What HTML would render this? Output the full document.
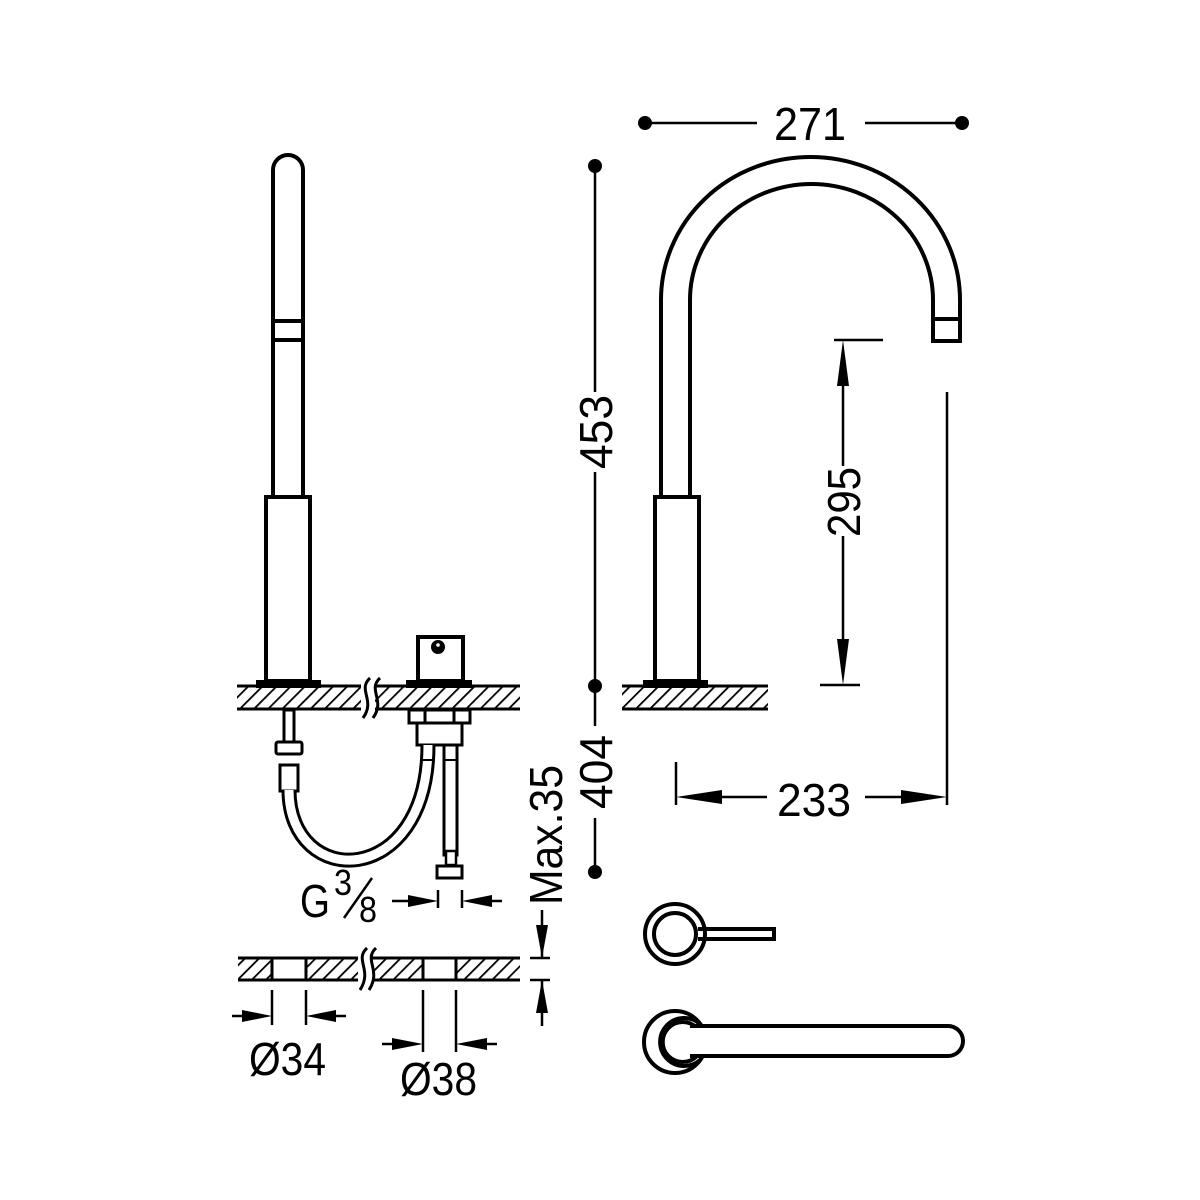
<!DOCTYPE html>
<html><head><meta charset="utf-8"><style>
html,body{margin:0;padding:0;background:#fff}
svg{display:block}
text{font-family:"Liberation Sans Narrow","Liberation Sans",sans-serif;fill:#000}
</style></head><body>
<svg width="1200" height="1200" viewBox="0 0 1200 1200" xmlns="http://www.w3.org/2000/svg">
<defs>
<pattern id="h" patternUnits="userSpaceOnUse" width="10" height="10" patternTransform="rotate(45)">
<line x1="0" y1="0" x2="0" y2="10" stroke="#000" stroke-width="3.6"/>
</pattern>
</defs>
<g fill="none" stroke="#000" stroke-width="4">
<path d="M273,497 V170 A15,15 0 0 1 303,170 V497"/>
<line x1="273" y1="321" x2="303" y2="321"/>
<line x1="273" y1="340" x2="303" y2="340"/>
<rect x="266" y="497" width="44" height="184"/>
<rect x="418" y="637" width="45" height="44"/>
</g>
<circle cx="438" cy="647" r="7" fill="#000"/>
<circle cx="438" cy="645" r="1.8" fill="#fff"/>
<rect x="256" y="680" width="65" height="8" fill="#000"/>
<rect x="406" y="680" width="66" height="8" fill="#000"/>
<rect x="237" y="686" width="283" height="23" fill="url(#h)"/>
<line x1="237" y1="686" x2="520" y2="686" stroke="#000" stroke-width="3"/>
<line x1="237" y1="709" x2="520" y2="709" stroke="#000" stroke-width="3"/>
<rect x="361" y="680" width="14" height="40" fill="#fff"/>
<path d="M370,678 C357,690 376,700 363,718 M380,678 C367,690 386,700 373,718" fill="none" stroke="#000" stroke-width="3"/>
<g fill="#fff" stroke="#000" stroke-width="3">
<rect x="409" y="710" width="61" height="13"/>
<line x1="425" y1="710" x2="425" y2="723"/><line x1="454" y1="710" x2="454" y2="723"/>
<rect x="417" y="723" width="45" height="22"/>
<rect x="284" y="710" width="10" height="32"/>
<rect x="276" y="742" width="26" height="12" rx="2"/>
<rect x="280" y="765" width="18" height="26"/>
</g>
<path d="M289,790 C289,890 428,890 428,745" fill="none" stroke="#000" stroke-width="15"/>
<path d="M289,790 C289,890 428,890 428,745" fill="none" stroke="#fff" stroke-width="9"/>
<line x1="422" y1="760" x2="434" y2="760" stroke="#000" stroke-width="2"/>
<rect x="444" y="745" width="13" height="110" fill="#fff" stroke="#000" stroke-width="3"/>
<line x1="444" y1="760" x2="457" y2="760" stroke="#000" stroke-width="2"/>
<rect x="446" y="851" width="10" height="14" fill="#fff" stroke="#000" stroke-width="2.5"/>
<rect x="437" y="866" width="25" height="12" fill="#fff" stroke="#000" stroke-width="3"/>
<g stroke="#000" stroke-width="2.5">
<line x1="438" y1="890" x2="438" y2="908"/><line x1="462" y1="890" x2="462" y2="908"/>
<line x1="392" y1="901" x2="412" y2="901"/><line x1="488" y1="901" x2="502" y2="901"/>
</g>
<path d="M408,895 L438,901 L408,907Z M492,895 L462,901 L492,907Z" fill="#000"/>
<text x="300" y="917" font-size="46" textLength="30" lengthAdjust="spacingAndGlyphs">G</text>
<text x="334" y="895" font-size="36" textLength="18" lengthAdjust="spacingAndGlyphs">3</text>
<line x1="344" y1="918" x2="372" y2="878" stroke="#000" stroke-width="2.5"/>
<text x="359" y="922" font-size="36" textLength="18" lengthAdjust="spacingAndGlyphs">8</text>
<g>
<rect x="238" y="958" width="35" height="22" fill="url(#h)"/>
<rect x="306" y="958" width="118" height="22" fill="url(#h)"/>
<rect x="456" y="958" width="64" height="22" fill="url(#h)"/>
<g stroke="#000" stroke-width="3">
<line x1="238" y1="958" x2="520" y2="958"/><line x1="238" y1="980" x2="520" y2="980"/>
<line x1="272" y1="958" x2="272" y2="980"/><line x1="306" y1="958" x2="306" y2="980"/>
<line x1="423" y1="958" x2="423" y2="980"/><line x1="456" y1="958" x2="456" y2="980"/>
</g>
<rect x="358" y="950" width="14" height="40" fill="#fff"/>
<path d="M367,948 C354,960 373,970 360,990 M376,948 C363,960 382,970 369,990" fill="none" stroke="#000" stroke-width="3"/>
</g>
<g stroke="#000" stroke-width="2.5">
<line x1="272" y1="990" x2="272" y2="1025"/><line x1="306" y1="990" x2="306" y2="1025"/>
<line x1="232" y1="1016" x2="245" y2="1016"/><line x1="333" y1="1016" x2="346" y2="1016"/>
<line x1="423" y1="990" x2="423" y2="1052"/><line x1="456" y1="990" x2="456" y2="1052"/>
<line x1="382" y1="1044" x2="395" y2="1044"/><line x1="484" y1="1044" x2="497" y2="1044"/>
<line x1="542" y1="910" x2="542" y2="958"/><line x1="542" y1="980" x2="542" y2="1026"/>
<line x1="530" y1="958" x2="550" y2="958"/><line x1="530" y1="980" x2="550" y2="980"/>
</g>
<path d="M242,1010 L272,1016 L242,1022Z M336,1010 L306,1016 L336,1022Z M392,1038 L423,1044 L392,1050Z M487,1038 L456,1044 L487,1050Z M536,925 L542,958 L548,925Z M536,1013 L542,980 L548,1013Z" fill="#000"/>
<text x="249" y="1075" font-size="46" textLength="77" lengthAdjust="spacingAndGlyphs">Ø34</text>
<text x="400" y="1095" font-size="46" textLength="77" lengthAdjust="spacingAndGlyphs">Ø38</text>
<text transform="translate(562,835) rotate(-90)" font-size="46" text-anchor="middle" textLength="140" lengthAdjust="spacingAndGlyphs">Max.35</text>
<g stroke="#000" stroke-width="2.5">
<line x1="595" y1="166" x2="595" y2="392"/><line x1="595" y1="472" x2="595" y2="726"/>
<line x1="595" y1="818" x2="595" y2="872"/>
</g>
<circle cx="595" cy="166" r="7"/><circle cx="595" cy="686" r="7"/><circle cx="595" cy="872" r="7"/>
<text transform="translate(612,432) rotate(-90)" font-size="46" text-anchor="middle" textLength="74" lengthAdjust="spacingAndGlyphs">453</text>
<text transform="translate(612,772) rotate(-90)" font-size="46" text-anchor="middle" textLength="74" lengthAdjust="spacingAndGlyphs">404</text>
<g fill="none" stroke="#000" stroke-width="4">
<path d="M661,497 V300 A149.5,143 0 0 1 960,300 V341 H933 V300 A121.5,116 0 0 0 690,300 V497"/>
<line x1="933" y1="319" x2="960" y2="319"/>
<rect x="655" y="497" width="44" height="184"/>
</g>
<rect x="643" y="680" width="65" height="8" fill="#000"/>
<rect x="622" y="686" width="146" height="23" fill="url(#h)"/>
<line x1="622" y1="686" x2="768" y2="686" stroke="#000" stroke-width="3"/>
<line x1="622" y1="709" x2="768" y2="709" stroke="#000" stroke-width="3"/>
<g stroke="#000" stroke-width="2.5">
<line x1="645" y1="123" x2="757" y2="123"/><line x1="865" y1="123" x2="962" y2="123"/>
</g>
<circle cx="645" cy="123" r="7"/><circle cx="962" cy="123" r="7"/>
<text x="810" y="140" font-size="46" text-anchor="middle" textLength="72" lengthAdjust="spacingAndGlyphs">271</text>
<g stroke="#000" stroke-width="2.5">
<line x1="834" y1="340" x2="883" y2="340"/><line x1="820" y1="685" x2="860" y2="685"/>
<line x1="843" y1="380" x2="843" y2="466"/><line x1="843" y1="536" x2="843" y2="650"/>
<line x1="947" y1="392" x2="947" y2="805"/>
<line x1="676" y1="762" x2="676" y2="805"/>
<line x1="700" y1="797" x2="767" y2="797"/><line x1="865" y1="797" x2="920" y2="797"/>
</g>
<path d="M837,386 L843,340 L849,386Z M837,639 L843,685 L849,639Z M722,790 L676,797 L722,804Z M901,790 L947,797 L901,804Z" fill="#000"/>
<text transform="translate(860,502) rotate(-90)" font-size="46" text-anchor="middle" textLength="70" lengthAdjust="spacingAndGlyphs">295</text>
<text x="814" y="816" font-size="46" text-anchor="middle" textLength="74" lengthAdjust="spacingAndGlyphs">233</text>
<g fill="none" stroke="#000" stroke-width="4">
<circle cx="675" cy="934" r="30"/>
<circle cx="675" cy="934" r="21"/>
<path d="M698,929 H774 V939 H698"/>
<circle cx="675" cy="1042" r="31"/>
<path d="M700,1024 A24,24 0 1 0 700,1060"/>
<path d="M697,1028 A20,20 0 1 0 697,1056"/>
</g>
<path d="M690,1026 H948 A15,15 0 0 1 948,1056 H690" fill="#fff" stroke="#000" stroke-width="4"/>
</svg>
</body></html>
